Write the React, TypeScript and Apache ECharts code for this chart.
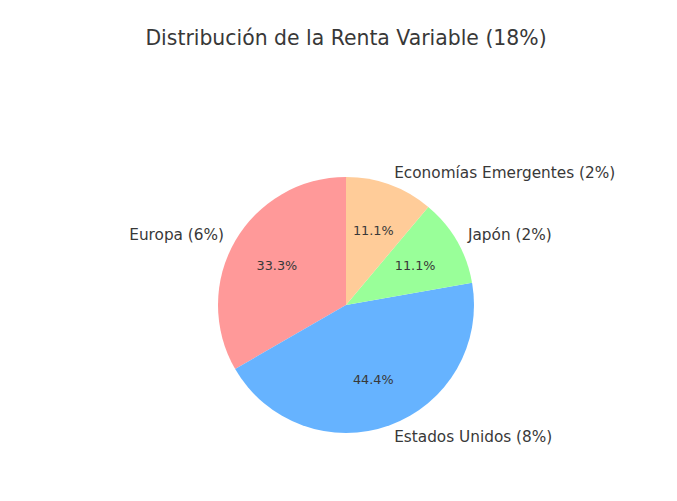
import React, { useEffect, useRef } from "react";
import * as echarts from "echarts";

const categories = ["Europa", "Estados Unidos", "Japón", "Economías Emergentes"];
const values = [6, 8, 2, 2];
const colors = ["#ff9999", "#66b3ff", "#99ff99", "#ffcc99"];
const titleText = "Distribución de la Renta Variable (18%)";

export default function App() {
  const ref = useRef<HTMLDivElement>(null);
  useEffect(() => {
    document.body.style.margin = "0";
    if (!ref.current) return;
    const chart = echarts.init(ref.current, undefined, { renderer: "svg" });
    const total = values.reduce((a, b) => a + b, 0);
    const R = 128;
    const font = "DejaVu Sans";
    const textColor = "#383838";
    const data = categories.map((c, i) => ({
      name: c,
      value: values[i],
      itemStyle: { color: colors[i] },
    }));
    chart.setOption({
      animation: false,
      backgroundColor: "#ffffff",
      title: {
        text: titleText,
        left: 346,
        textAlign: "center",
        top: 27,
        padding: 0,
        textStyle: {
          fontFamily: font,
          fontSize: 20.4,
          fontWeight: "normal",
          color: textColor,
          lineHeight: 22,
        },
      },
      series: [
        {
          type: "pie",
          center: [346, 305],
          radius: [0, R],
          startAngle: 90,
          clockwise: false,
          avoidLabelOverlap: false,
          silent: true,
          data,
          label: {
            show: true,
            position: "outside",
            fontFamily: font,
            fontSize: 15.3,
            color: textColor,
            distanceToLabelLine: 0,
            formatter: (p: any) => `${p.name} (${p.value}%)`,
          },
          labelLine: { show: false, length: R * 0.1, length2: 0 },
        },
        {
          type: "pie",
          center: [346, 305],
          radius: [R * 0.2, R],
          startAngle: 90,
          clockwise: false,
          avoidLabelOverlap: false,
          silent: true,
          data: categories.map((c, i) => ({
            name: c,
            value: values[i],
            itemStyle: { color: "rgba(0,0,0,0)" },
          })),
          label: {
            show: true,
            position: "inside",
            fontFamily: font,
            fontSize: 12.8,
            color: textColor,
            formatter: (p: any) => `${((p.value / total) * 100).toFixed(1)}%`,
          },
          labelLine: { show: false },
        },
      ],
    });
    return () => chart.dispose();
  }, []);
  return <div ref={ref} style={{ width: 677, height: 501 }} />;
}
